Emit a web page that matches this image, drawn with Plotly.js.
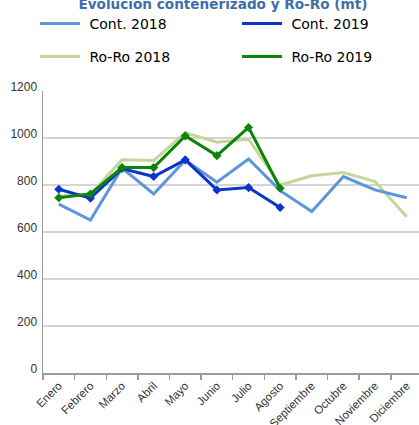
<!DOCTYPE html>
<html>
<head>
<meta charset="utf-8">
<script src="https://cdn.plot.ly/plotly-3.0.1.min.js"></script>
<style>html,body{margin:0;padding:0;background:#fff;}#chart{width:419px;height:425px;}</style>
</head>
<body>
<div id="chart"></div>
<script>
const months = ["Enero","Febrero","Marzo","Abril","Mayo","Junio","Julio","Agosto","Septiembre","Octubre","Noviembre","Diciembre"];
const cont2018 = [719, 651, 872, 762, 905, 812, 911, 776, 687, 836, 779, 746];
const cont2019 = [782, 744, 870, 836, 907, 779, 789, 704];
const roro2018 = [752, 762, 907, 904, 1023, 982, 995, 800, 839, 853, 815, 665];
const roro2019 = [746, 762, 874, 874, 1009, 925, 1045, 786];
const yTicks = [0, 200, 400, 600, 800, 1000, 1200];

const C18 = "#5B96D9", C19 = "#0A35C8", R18 = "#C4D79B", R19 = "#0A840A";

const traces = [
  {x: months, y: roro2018, name: "&nbsp;Ro-Ro 2018", mode: "lines", line: {color: R18, width: 3}, legend: "legend3"},
  {x: months, y: cont2018, name: "&nbsp;Cont. 2018", mode: "lines", line: {color: C18, width: 3}, legend: "legend"},
  {x: months.slice(0, cont2019.length), y: cont2019, mode: "lines+markers", line: {color: C19, width: 3}, marker: {symbol: "diamond", size: 7, color: C19}, showlegend: false},
  {x: months.slice(0, roro2019.length), y: roro2019, mode: "lines+markers", line: {color: R19, width: 3}, marker: {symbol: "diamond", size: 7, color: R19}, showlegend: false},
  // legend-only entries (no drawn points) so the legend shows plain line keys
  {x: [null], y: [null], name: "&nbsp;Cont. 2019", mode: "lines", line: {color: C19, width: 3}, legend: "legend2", hoverinfo: "skip"},
  {x: [null], y: [null], name: "&nbsp;Ro-Ro 2019", mode: "lines", line: {color: R19, width: 3}, legend: "legend4", hoverinfo: "skip"}
];

const legendCommon = {
  orientation: "v", xref: "container", yref: "container", xanchor: "left", yanchor: "middle",
  font: {family: "DejaVu Sans", size: 14, color: "#000"},
  itemwidth: 40, bgcolor: "rgba(0,0,0,0)", itemclick: false
};

const layout = {
  width: 419, height: 425,
  margin: {l: 43, r: 0, t: 91, b: 52, autoexpand: false},
  paper_bgcolor: "#fff", plot_bgcolor: "#fff",
  title: {text: "<b>Evolución contenerizado y Ro-Ro (mt)</b>", font: {family: "DejaVu Sans", size: 13.6, color: "#3F6FA9"}, xref: "container", yref: "container", x: 0.532, xanchor: "center", y: 1 - 4/425, yanchor: "middle"},
  legend: Object.assign({}, legendCommon, {x: 35/419, y: 1 - 24/425}),
  legend2: Object.assign({}, legendCommon, {x: 237/419, y: 1 - 24/425}),
  legend3: Object.assign({}, legendCommon, {x: 35/419, y: 1 - 57/425}),
  legend4: Object.assign({}, legendCommon, {x: 237/419, y: 1 - 57/425}),
  xaxis: {
    type: "category", categoryarray: months, categoryorder: "array", range: [-0.5, 11.39], showgrid: false, zeroline: false,
    showline: true, linecolor: "#9a9a9a", linewidth: 1.5, automargin: false,
    ticks: "outside", tickson: "boundaries", ticklen: 5, tickcolor: "#9a9a9a", tickwidth: 1.5,
    tickangle: -45, tickfont: {family: "Liberation Sans", size: 11.5, color: "#333"}
  },
  yaxis: {
    range: [0, 1200], tickvals: yTicks, ticktext: yTicks.map(String), showgrid: true, gridcolor: "#d4d4d4", gridwidth: 1.5,
    zeroline: false, showline: true, linecolor: "#9a9a9a", linewidth: 1.5, ticks: "", automargin: false,
    tickfont: {family: "Liberation Sans", size: 12, color: "#333"}, ticklabelstandoff: 2, ticklabelshift: -4
  },
  showlegend: true
};

Plotly.newPlot("chart", traces, layout, {staticPlot: true, displayModeBar: false});
</script>
</body>
</html>
